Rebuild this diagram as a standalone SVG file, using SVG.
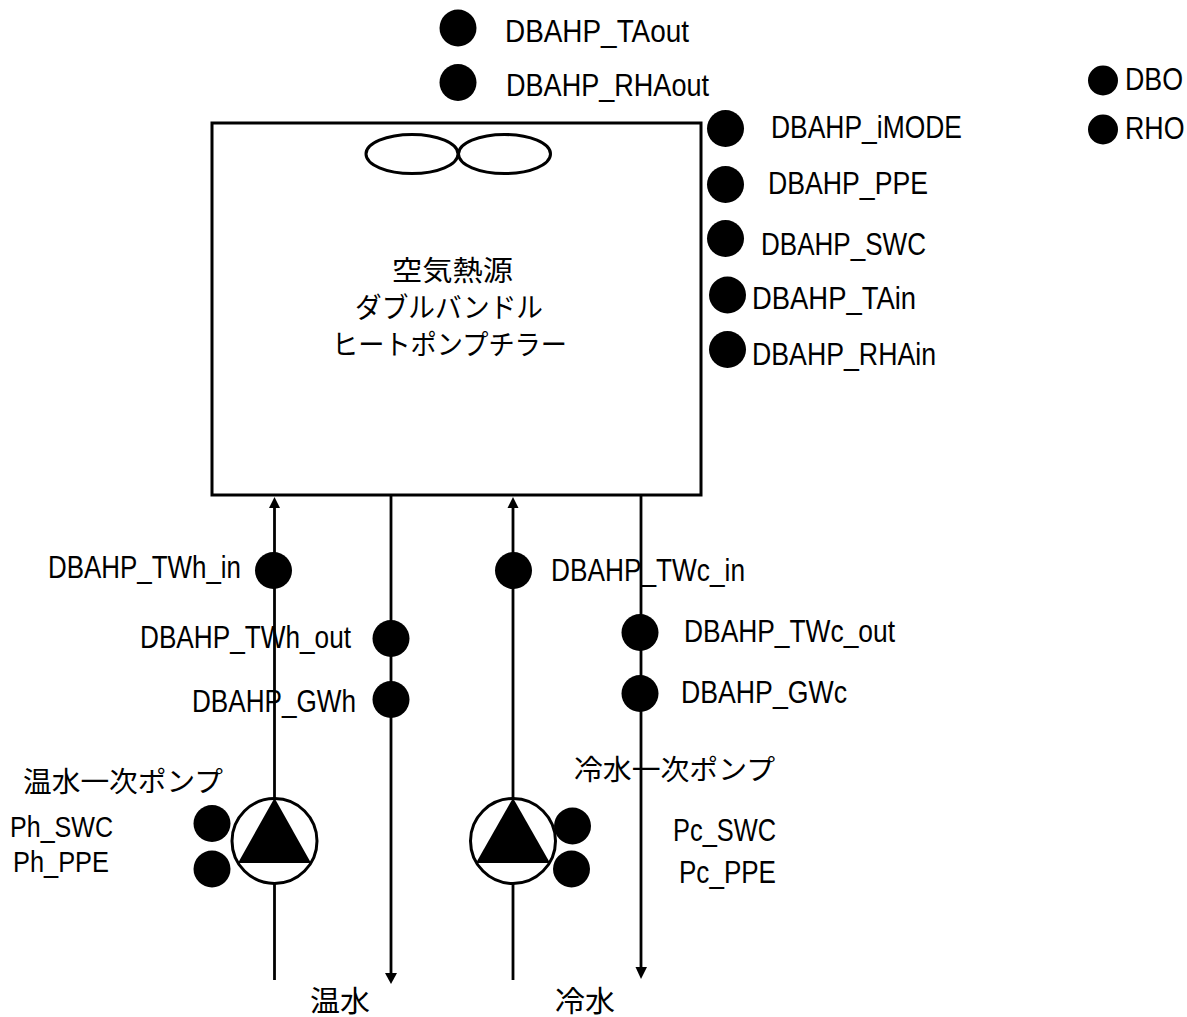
<svg xmlns="http://www.w3.org/2000/svg" width="1187" height="1017" viewBox="0 0 1187 1017">
<style>
text{font-family:"Liberation Sans","Noto Sans CJK JP",sans-serif;font-size:31px;fill:#000}
.s{font-size:30px}
.j{font-family:"Noto Sans CJK JP","Liberation Sans",sans-serif;font-size:28px}
.b{font-size:29px}
.d{fill:#000}
.l{stroke:#000;stroke-width:2.800;fill:none}
.o{stroke:#000;stroke-width:3;fill:#fff}
.h{fill:#000}
</style>
<g id="unit"><rect x="212" y="123" width="489" height="372" fill="#fff" stroke="#000" stroke-width="3"/>
<ellipse class="o" cx="412" cy="154" rx="46" ry="19.500"/><ellipse class="o" cx="504.500" cy="154" rx="46" ry="19.500"/>
<text class="j" x="392" y="281" textLength="121" lengthAdjust="spacingAndGlyphs">空気熱源</text><text class="j" x="355" y="318" textLength="188" lengthAdjust="spacingAndGlyphs">ダブルバンドル</text><text class="j" x="332" y="355" textLength="235" lengthAdjust="spacingAndGlyphs">ヒートポンプチラー</text></g>
<g id="connectors">
<path class="l" d="M274.500 980V505"/><path class="h" d="M269 508L274.500 497L280 508Z"/>
<path class="l" d="M513 980V505"/><path class="h" d="M507.500 508L513 497L518.500 508Z"/>
<path class="l" d="M391 495V974"/><path class="h" d="M385 973L391 984L397 973Z"/>
<path class="l" d="M641 495V968"/><path class="h" d="M635.500 967L641 979L647 967Z"/>
</g>
<g id="pump-h"><circle class="o" cx="274.500" cy="841" r="42.500"/><path class="h" d="M274.500 798L311 863H238Z"/></g>
<g id="pump-c"><circle class="o" cx="513" cy="841" r="42.500"/><path class="h" d="M513 798L550 863H476Z"/></g>
<g id="s-taout"><circle class="d" cx="458" cy="28" r="18.500"/><text x="505" y="42" textLength="184" lengthAdjust="spacingAndGlyphs">DBAHP_TAout</text></g>
<g id="s-rhaout"><circle class="d" cx="458" cy="82.500" r="18.500"/><text x="506" y="96" textLength="203" lengthAdjust="spacingAndGlyphs">DBAHP_RHAout</text></g>
<g id="s-imode"><circle class="d" cx="725.500" cy="128.500" r="18.500"/><text x="771" y="137.500" textLength="191" lengthAdjust="spacingAndGlyphs">DBAHP_iMODE</text></g>
<g id="s-ppe"><circle class="d" cx="725.500" cy="184.500" r="18.500"/><text x="768" y="194" textLength="160" lengthAdjust="spacingAndGlyphs">DBAHP_PPE</text></g>
<g id="s-swc"><circle class="d" cx="725.500" cy="238.500" r="18.500"/><text x="761" y="255" textLength="165" lengthAdjust="spacingAndGlyphs">DBAHP_SWC</text></g>
<g id="s-tain"><circle class="d" cx="727.500" cy="295" r="18.500"/><text x="752" y="308.500" textLength="164" lengthAdjust="spacingAndGlyphs">DBAHP_TAin</text></g>
<g id="s-rhain"><circle class="d" cx="727.500" cy="349.500" r="18.500"/><text x="752" y="365" textLength="184" lengthAdjust="spacingAndGlyphs">DBAHP_RHAin</text></g>
<g id="s-dbo"><circle class="d" cx="1103" cy="80.500" r="15"/><text transform="translate(1125 89.500) scale(.865 1)">DBO</text></g>
<g id="s-rho"><circle class="d" cx="1103" cy="129.500" r="15"/><text transform="translate(1125 138.500) scale(.865 1)">RHO</text></g>
<g id="s-twhin"><circle class="d" cx="273.500" cy="570.500" r="18.500"/><text x="48" y="578" textLength="193" lengthAdjust="spacingAndGlyphs">DBAHP_TWh_in</text></g>
<g id="s-twhout"><circle class="d" cx="391" cy="638.500" r="18.500"/><text x="140" y="648" textLength="211" lengthAdjust="spacingAndGlyphs">DBAHP_TWh_out</text></g>
<g id="s-gwh"><circle class="d" cx="391" cy="699.500" r="18.500"/><text x="192" y="712" textLength="164" lengthAdjust="spacingAndGlyphs">DBAHP_GWh</text></g>
<g id="s-twcin"><circle class="d" cx="513.500" cy="570.500" r="18.500"/><text x="551" y="581" textLength="194" lengthAdjust="spacingAndGlyphs">DBAHP_TWc_in</text></g>
<g id="s-twcout"><circle class="d" cx="640" cy="632.500" r="18.500"/><text x="684" y="642" textLength="211" lengthAdjust="spacingAndGlyphs">DBAHP_TWc_out</text></g>
<g id="s-gwc"><circle class="d" cx="640" cy="693.500" r="18.500"/><text x="681" y="703" textLength="166" lengthAdjust="spacingAndGlyphs">DBAHP_GWc</text></g>
<g id="s-phswc"><circle class="d" cx="212" cy="823.500" r="18.500"/><text class="s" x="10" y="837" textLength="103" lengthAdjust="spacingAndGlyphs">Ph_SWC</text></g>
<g id="s-phppe"><circle class="d" cx="212" cy="869" r="18.500"/><text class="s" x="13" y="872" textLength="96" lengthAdjust="spacingAndGlyphs">Ph_PPE</text></g>
<g id="s-pcswc"><circle class="d" cx="572.500" cy="826" r="18.500"/><text x="673" y="841" textLength="103" lengthAdjust="spacingAndGlyphs">Pc_SWC</text></g>
<g id="s-pcppe"><circle class="d" cx="571.500" cy="869" r="18.500"/><text x="679" y="883" textLength="97" lengthAdjust="spacingAndGlyphs">Pc_PPE</text></g>
<g id="labels"><text class="j" x="23" y="792" textLength="200" lengthAdjust="spacingAndGlyphs">温水一次ポンプ</text><text class="j" x="574" y="780" textLength="201" lengthAdjust="spacingAndGlyphs">冷水一次ポンプ</text><text class="b" x="310" y="1012" textLength="60" lengthAdjust="spacingAndGlyphs">温水</text><text class="b" x="555" y="1012" textLength="60" lengthAdjust="spacingAndGlyphs">冷水</text></g>
</svg>
